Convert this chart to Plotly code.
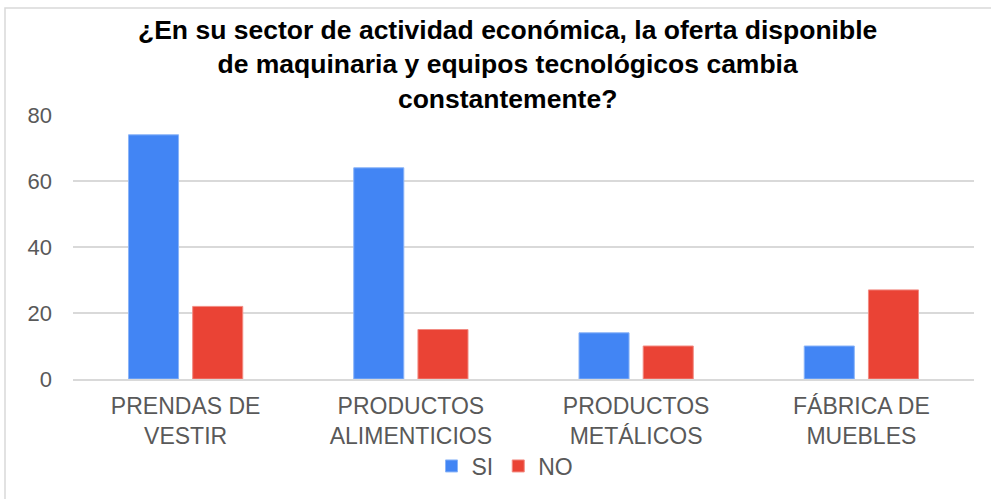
import plotly.graph_objects as go

categories = ["PRENDAS DE<br>VESTIR", "PRODUCTOS<br>ALIMENTICIOS", "PRODUCTOS<br>METÁLICOS", "FÁBRICA DE<br>MUEBLES"]
si_values = [74, 64, 14, 10]
no_values = [22, 15, 10, 27]
title_text = ("¿En su sector de actividad económica, la oferta disponible<br>"
              "de maquinaria y equipos tecnológicos cambia<br>constantemente?")

W, H = 991, 499
L, R, T, B = 73, 17, 115, 120
pw, ph = W - L - R, H - T - B

def px_x(x):
    return (x - L) / pw

def px_y(y):
    return (H - B - y) / ph

fig = go.Figure()
fig.add_trace(go.Bar(name="SI", x=categories, y=si_values,
                     marker=dict(color="#4285F4", line=dict(color="#8AB4F8", width=1))))
fig.add_trace(go.Bar(name="NO", x=categories, y=no_values,
                     marker=dict(color="#EA4335", line=dict(color="#F28B82", width=1))))

fig.update_layout(
    width=W, height=H,
    margin=dict(l=L, r=R, t=T, b=B),
    paper_bgcolor="white", plot_bgcolor="white",
    font=dict(family="Liberation Sans, Arial, sans-serif", color="#595959", size=22),
    barmode="group", bargap=0.43, bargroupgap=0.22,
    showlegend=True,
    legend=dict(orientation="h", x=px_x(505), xanchor="center", y=px_y(466), yanchor="middle",
                font=dict(size=23, color="#595959"), itemwidth=30, traceorder="normal"),
    annotations=[dict(text="<b>" + title_text + "</b>", xref="paper", yref="paper",
                      x=px_x(507), xanchor="center", y=px_y(13), yanchor="top",
                      showarrow=False, align="center",
                      font=dict(size=26.5, color="black"))],
    shapes=[dict(type="rect", xref="paper", yref="paper",
                 x0=px_x(5), x1=px_x(1010), y0=px_y(520), y1=px_y(8),
                 line=dict(color="#D9D9D9", width=1.5), fillcolor="rgba(0,0,0,0)", layer="below")],
)
fig.update_yaxes(range=[0, 80], dtick=20, showgrid=True, gridcolor="#D9D9D9", gridwidth=1.5,
                 zeroline=False, showline=False, ticks="", ticklabelstandoff=20,
                 tickfont=dict(size=22, color="#595959"))
fig.update_xaxes(showline=True, linecolor="#D9D9D9", linewidth=1.5, ticks="",
                 ticklabelstandoff=6, tickfont=dict(size=23, color="#595959"))

fig.write_html("out.html")
